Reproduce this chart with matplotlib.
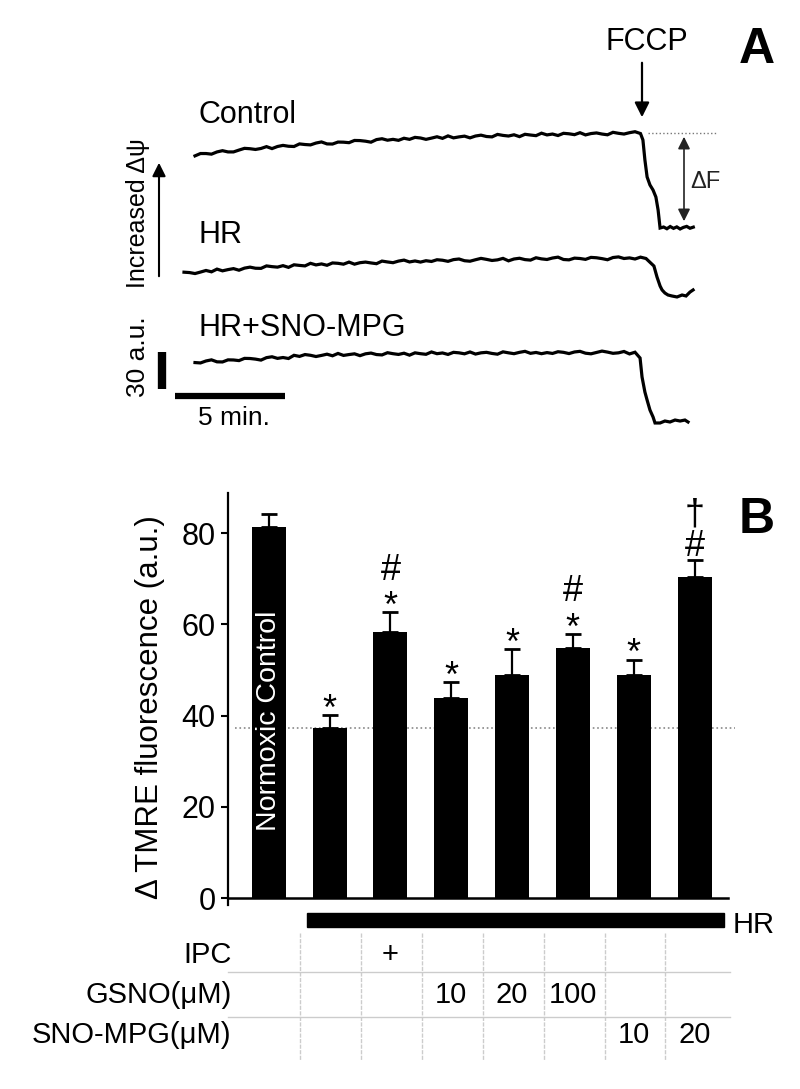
import numpy as np
import matplotlib
matplotlib.use('Agg')
import matplotlib.pyplot as plt
from matplotlib.patches import Rectangle

plt.rcParams['font.family'] = ['Liberation Sans', 'DejaVu Sans']

# ---- panel A: TMRE traces (a.u., relative to post-FCCP level) ----
ctrl_t = np.arange(0, 20.26, 0.25)
ctrl_v = [58.5, 60.4, 60.4, 59.9, 61.7, 62.7, 61.7, 61.7, 63.2, 64.6,
          64.3, 63.7, 64.5, 66.0, 64.4, 66.1, 67.0, 66.3, 66.1, 68.2,
          67.7, 67.4, 68.9, 69.8, 68.2, 68.1, 69.7, 69.6, 69.2, 71.0,
          70.9, 70.4, 69.6, 71.7, 72.4, 71.2, 71.9, 71.1, 72.8, 71.9,
          73.5, 73.0, 71.9, 72.9, 74.0, 72.7, 74.7, 73.1, 73.9, 74.5,
          73.1, 74.6, 75.3, 74.2, 73.9, 75.9, 75.1, 74.6, 75.6, 74.1,
          76.0, 75.4, 74.9, 76.9, 75.5, 76.2, 75.0, 76.8, 76.4, 75.7,
          77.3, 75.5, 76.6, 77.1, 76.2, 75.6, 77.6, 76.8, 76.2, 77.3,
          78.1, 76.6]
ctrl_drop_t = [20.36, 20.45, 20.55, 20.68, 20.82, 20.95, 21.05, 21.14, 21.3,
               21.45, 21.6, 21.75, 21.9, 22.05, 22.2, 22.35, 22.5, 22.65]
ctrl_drop_v = [71.4, 55.2, 41.4, 34.9, 30.8, 25.1, 14.6, 0.0, 0.8,
               -0.6, 1.2, -0.3, 0.9, -0.8, 0.5, 1.3, -0.2, 0.7]

hr_t = np.arange(-0.5, 20.51, 0.25)
hr_v = [18.5, 18.2, 17.4, 18.6, 19.9, 18.8, 21.0, 19.6, 20.6, 21.4,
        20.1, 21.8, 22.6, 21.7, 21.6, 23.6, 23.0, 22.6, 23.8, 22.4,
        24.5, 24.0, 23.6, 25.7, 24.4, 25.2, 24.1, 26.0, 25.7, 25.0,
        26.7, 25.0, 26.2, 26.7, 26.0, 25.4, 27.5, 26.8, 26.2, 27.5,
        28.3, 26.8, 27.6, 26.7, 27.8, 27.2, 28.6, 28.2, 27.3, 28.7,
        29.2, 27.8, 27.4, 28.6, 29.7, 28.9, 28.0, 28.5, 29.7, 27.7,
        29.2, 29.8, 28.7, 28.3, 30.2, 29.3, 28.8, 30.0, 30.7, 28.8,
        28.5, 29.9, 29.6, 28.9, 30.5, 30.2, 29.5, 28.6, 30.4, 30.9,
        29.6, 30.1, 29.2, 30.7, 29.6]
hr_drop_t = [20.86, 21.0, 21.14, 21.23, 21.36, 21.5, 21.68, 21.91, 22.14,
             22.32, 22.5, 22.64]
hr_drop_v = [23.5, 14.6, 7.3, 4.1, 1.6, 0.0, -0.8, -1.6, 0.0, -0.8, 2.4, 4.1]

sno_t = np.arange(0, 20.01, 0.25)
sno_v = [48.2, 47.9, 49.5, 50.4, 48.8, 48.7, 50.4, 50.3, 49.8, 51.6,
         51.5, 51.0, 50.2, 52.2, 52.9, 51.6, 52.3, 51.5, 54.1, 53.2,
         54.7, 54.1, 53.1, 54.0, 55.0, 53.7, 55.6, 54.0, 54.7, 55.3,
         53.8, 55.3, 55.9, 54.7, 54.4, 56.2, 55.4, 54.8, 55.8, 54.2,
         56.1, 55.4, 54.9, 56.8, 55.4, 56.0, 54.8, 56.5, 56.1, 55.3,
         56.8, 55.1, 56.1, 56.5, 55.6, 55.0, 56.9, 56.1, 55.4, 56.5,
         57.3, 55.7, 56.4, 55.4, 56.3, 55.6, 57.0, 56.5, 55.5, 56.8,
         57.3, 55.8, 55.3, 56.4, 57.5, 56.7, 55.7, 56.1, 57.2, 55.2,
         56.6]
sno_drop_t = [20.23, 20.32, 20.45, 20.55, 20.68, 20.82, 20.91, 21.14, 21.36,
              21.59, 21.82, 22.05, 22.27, 22.41]
sno_drop_v = [51.9, 36.5, 24.3, 17.8, 9.7, 4.1, -0.8, -0.8, 0.8,
              0.0, 1.6, 0.8, 1.6, 0.0]

# ---- panel B: bars ----
bar_vals = [81.3, 37.3, 58.3, 43.8, 48.9, 54.8, 48.9, 70.4]
bar_errs = [2.9, 2.8, 4.4, 3.5, 5.7, 3.1, 3.3, 3.7]
bar_sig = ['', '*', '*#', '*', '*', '*#', '*', '#\u2020']
hr_level = 37.2

row_labels = ['IPC', 'GSNO(\u03bcM)', 'SNO-MPG(\u03bcM)']
ipc_row = ['', '', '+', '', '', '', '', '']
gsno_row = ['', '', '', '10', '20', '100', '', '']
snompg_row = ['', '', '', '', '', '', '10', '20']

W, H = 800, 1089
fig = plt.figure(figsize=(8, 10.89), dpi=100)

# panel A axes laid out in pixel terms: 22 px per minute, 1.233 px per a.u.
PXM, PXU = 22.0, 1.233
axA = fig.add_axes([0, (H - 450) / H, 1, 450 / H])
axA.set_xlim(-195 / PXM, (W - 195) / PXM)
axA.set_ylim(0, 450 / PXU)
axA.axis('off')

def pa(x, y):
    return (x - 195) / PXM, (450 - y) / PXU

traces = [
    (ctrl_t, ctrl_v, ctrl_drop_t, ctrl_drop_v, 228, 'Control'),
    (hr_t, hr_v, hr_drop_t, hr_drop_v, 295, 'HR'),
    (sno_t, sno_v, sno_drop_t, sno_drop_v, 422, 'HR+SNO-MPG'),
]
label_y = [115, 235, 328]
for (t, v, dt, dv, floor_px, name), ly in zip(traces, label_y):
    off = pa(0, floor_px)[1]
    tt = np.concatenate([t, dt])
    vv = np.concatenate([v, dv]) + off
    axA.plot(tt, vv, color='black', lw=2.3, solid_joinstyle='miter')
    axA.text(*pa(198, ly), name, fontsize=22, ha='left', va='center')

# FCCP arrow and label
axA.annotate('', xy=pa(642, 120), xytext=pa(642, 60),
             arrowprops=dict(arrowstyle='-|>', color='black', lw=1.6,
                             mutation_scale=22))
axA.text(*pa(647, 42), 'FCCP', fontsize=22, ha='center', va='center')
axA.text(*pa(757, 50), 'A', fontsize=36, fontweight='bold',
         ha='center', va='center')

# delta F marker
x0, yl = pa(648, 133)
x1, _ = pa(717, 133)
axA.plot([x0, x1], [yl, yl], color='#777777', lw=1.0, ls=':')
axA.annotate('', xy=pa(684, 224), xytext=pa(684, 134),
             arrowprops=dict(arrowstyle='<|-|>', color='#222222', lw=1.2,
                             mutation_scale=18))
axA.text(*pa(705, 182), '\u0394F', fontsize=17, ha='center', va='center',
         color='#222222')

# increased potential arrow
axA.annotate('', xy=pa(159, 160), xytext=pa(159, 279),
             arrowprops=dict(arrowstyle='-|>', color='black', lw=1.5,
                             mutation_scale=20))
axA.text(*pa(138, 213), 'Increased \u0394\u03c8', fontsize=18, rotation=90,
         ha='center', va='center')

# scale bars
sx, sy = pa(162, 389)
axA.plot([sx, sx], [sy, sy + 30], color='black', lw=6, solid_capstyle='butt')
axA.text(*pa(138, 357), '30 a.u.', fontsize=19, rotation=90,
         ha='center', va='center')
hx, hy = pa(175, 396)
axA.plot([hx, hx + 5], [hy, hy], color='black', lw=4.5, solid_capstyle='butt')
axA.text(*pa(234, 418), '5 min.', fontsize=19, ha='center', va='center')

# ---- panel B ----
axB = fig.add_axes([228 / W, (H - 898) / H, 500 / W, 405 / H])
x = np.arange(len(bar_vals))
axB.bar(x, bar_vals, width=0.56, color='black', zorder=3)
axB.errorbar(x, bar_vals, yerr=[np.zeros(len(bar_errs)), bar_errs],
             fmt='none', ecolor='black', elinewidth=1.6, capsize=6,
             capthick=2, zorder=3)
axB.set_xlim(-0.67, 7.55)
axB.set_ylim(0, 88.8)
axB.set_yticks([0, 20, 40, 60, 80])
axB.tick_params(axis='y', labelsize=22, length=5, width=1.5, pad=4)
axB.set_xticks([])
for s in ['top', 'right']:
    axB.spines[s].set_visible(False)
axB.spines['left'].set_linewidth(1.6)
axB.spines['left'].set_bounds(-1.5, 88.8)
axB.spines['bottom'].set_linewidth(1.8)

axB.plot([-0.56, 7.66], [hr_level, hr_level], color='#888888', lw=1.2,
         ls=':', zorder=2, clip_on=False)

axB.text(x[0], 38.8, 'Normoxic Control', rotation=90, color='white',
         fontsize=20.5, ha='center', va='center', zorder=4)

# significance symbols stacked above error caps
fs_sig = 26
em = fs_sig * 100 / 72 / (405 / 88.8)   # font em in data units
glyph_mid = {'*': 0.58, '#': 0.35, '\u2020': 0.27}
for xi, v, e, sig in zip(x, bar_vals, bar_errs, bar_sig):
    for k, s in enumerate(sig):
        cy = v + e + 3.6 + 6.3 * k
        axB.text(xi, cy - glyph_mid[s] * em, s, fontsize=fs_sig, ha='center',
                 va='baseline', clip_on=False)

fig.text(150 / W, 1 - 707 / H, '\u0394 TMRE fluorescence (a.u.)', fontsize=22.5,
         rotation=90, ha='center', va='center')
fig.text(757 / W, 1 - 520 / H, 'B', fontsize=36, fontweight='bold',
         ha='center', va='center')

# HR bar under groups
axB.add_patch(Rectangle((1 - 0.37, -6.4), len(x) - 1 + 0.48 - (1 - 0.37), 3.1,
                        color='black', clip_on=False))
axB.text(7.63, -5.9, 'HR', fontsize=21, ha='left', va='center')

# treatment table
row_y = [-12.5, -21.3, -30.0]
for lab, ry, row in zip(row_labels, row_y, [ipc_row, gsno_row, snompg_row]):
    axB.text(-0.61, ry, lab, fontsize=21, ha='right', va='center',
             clip_on=False)
    for xi, cell in zip(x, row):
        if cell:
            axB.text(xi, ry, cell, fontsize=21, ha='center', va='center',
                     clip_on=False)
for ly in [-16.2, -26.1]:
    axB.plot([-0.67, 7.58], [ly, ly], color='#cccccc', lw=1.0, clip_on=False)
for xi in x[:-1]:
    axB.plot([xi + 0.52, xi + 0.52], [-7.7, -35.5], color='#cccccc', lw=1.0,
             ls=(0, (3, 1)), clip_on=False)

fig.savefig('out.png', dpi=100)
